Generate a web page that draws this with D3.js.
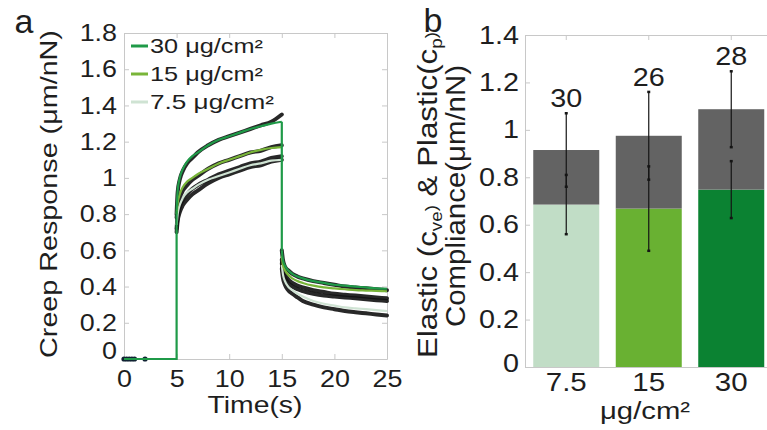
<!DOCTYPE html>
<meta charset="utf-8">
<style>
body { margin: 0; background: #fff; }
svg { display: block; }
text { font-family: "Liberation Sans", Arial, sans-serif; fill: #1e1e1e; }
</style>
<body>
<script src="https://d3js.org/d3.v7.min.js"></script>
<script>

var width = 767,
    height = 430;

// ---- panel a : creep curves ----
var xTicksA = [0, 5, 10, 15, 20, 25],
    yTicksA = [0, 0.2, 0.4, 0.6, 0.8, 1, 1.2, 1.4, 1.6, 1.8];

var preT = [0, 0.25, 0.5, 0.75, 1.0, 2.0];
var loadT = [5, 5.1, 5.3, 5.6, 6, 6.5, 7, 8, 9, 10, 11, 12, 13, 14, 15];
var unloadT = [15, 15.1, 15.3, 15.6, 16, 16.5, 17, 18, 19, 20, 21, 22, 23, 24, 25];

// measured traces (black)
var data30Load = [0.80, 0.92, 0.99, 1.04, 1.08, 1.11, 1.14, 1.18, 1.21, 1.23, 1.25, 1.27, 1.29, 1.31, 1.35];
var data15Load = [0.78, 0.84, 0.89, 0.93, 0.96, 0.99, 1.01, 1.05, 1.08, 1.10, 1.12, 1.14, 1.15, 1.17, 1.18];
var data7Load  = [0.72, 0.79, 0.84, 0.88, 0.91, 0.94, 0.96, 0.99, 1.02, 1.04, 1.06, 1.08, 1.09, 1.11, 1.12];
var data7bLoad = [0.70, 0.76, 0.81, 0.85, 0.88, 0.91, 0.93, 0.97, 1.00, 1.02, 1.04, 1.06, 1.07, 1.09, 1.10];
var data30Unload = [0.60, 0.55, 0.51, 0.49, 0.47, 0.455, 0.445, 0.43, 0.42, 0.41, 0.40, 0.395, 0.39, 0.385, 0.38];
var data15Unload = [0.55, 0.50, 0.47, 0.44, 0.42, 0.405, 0.395, 0.38, 0.37, 0.36, 0.355, 0.35, 0.345, 0.34, 0.335];
var data7bUnload = [0.53, 0.48, 0.45, 0.42, 0.40, 0.385, 0.375, 0.36, 0.35, 0.345, 0.34, 0.335, 0.33, 0.325, 0.32];
var data7Unload  = [0.50, 0.45, 0.41, 0.38, 0.36, 0.34, 0.32, 0.30, 0.285, 0.275, 0.265, 0.258, 0.252, 0.246, 0.24];

// fitted curves (coloured)
var fit30Load = [0.82, 0.93, 1.00, 1.05, 1.09, 1.12, 1.14, 1.18, 1.21, 1.23, 1.25, 1.27, 1.285, 1.30, 1.31];
var fit15Load = [0.80, 0.86, 0.91, 0.95, 0.98, 1.00, 1.02, 1.05, 1.08, 1.10, 1.12, 1.14, 1.155, 1.165, 1.17];
var fit7Load  = [0.74, 0.80, 0.85, 0.89, 0.92, 0.94, 0.96, 0.99, 1.01, 1.03, 1.05, 1.07, 1.08, 1.095, 1.10];
var fit30Unload = [0.60, 0.55, 0.515, 0.49, 0.47, 0.455, 0.445, 0.43, 0.42, 0.41, 0.405, 0.40, 0.395, 0.39, 0.388];
var fit15Unload = [0.57, 0.52, 0.49, 0.465, 0.445, 0.43, 0.42, 0.405, 0.395, 0.39, 0.385, 0.38, 0.378, 0.376, 0.374];
var fit7Unload  = [0.52, 0.47, 0.43, 0.40, 0.38, 0.36, 0.345, 0.32, 0.305, 0.295, 0.285, 0.28, 0.275, 0.27, 0.265];

var legendLabels = ["30 μg/cm²", "15 μg/cm²", "7.5 μg/cm²"];
var fitColors = ["#1f9a48", "#79b539", "#cfe3d3"];

// ---- panel b : compliance bars ----
var conc = ["7.5", "15", "30"];
var elastic = [0.685, 0.668, 0.748];
var plastic = [0.23, 0.307, 0.339];
var elasticSd = [0.125, 0.178, 0.12];
var totalSd = [0.155, 0.185, 0.16];
var nCells = [30, 26, 28];
var yTicksB = [0, 0.2, 0.4, 0.6, 0.8, 1, 1.2, 1.4];
var barColors = ["#c1ddc6", "#69b132", "#0b8232"];
var plasticColor = "#636363";

var frame = "#c8c8c8";

var svg = d3.select("body").append("svg")
    .attr("width", width)
    .attr("height", height);

// text stretched along its baseline, like the original export
function label(parent, parts, x, y, size, targetW, rot, anchor) {
  var g = parent.append("g");
  var t = g.append("text")
      .attr("font-size", size)
      .attr("text-anchor", anchor || "middle");
  parts.forEach(function(p) {
    if (typeof p === "string") t.append("tspan").text(p);
    else t.append("tspan").attr("font-size", size * 0.6).attr("dy", p.dy).text(p.s);
  });
  var w = t.node().getComputedTextLength();
  var sx = targetW ? targetW / w : 1;
  g.attr("transform", "translate(" + x + "," + y + ") rotate(" + (rot || 0) + ") scale(" + sx + ",1)");
  return g;
}

var fmt = d3.format(".1~f");

function styleAxis(g, size, hideLabels) {
  g.select(".domain").attr("stroke", frame);
  g.selectAll(".tick line").attr("stroke", frame);
  g.selectAll("text").attr("font-size", size).attr("fill", "#222")
      .style("font-family", "'Liberation Sans', Arial, sans-serif");
  if (hideLabels) g.selectAll("text").remove();
}

// ================= panel a =================
var xA = d3.scaleLinear().domain([0, 25]).range([124, 387]);
var yA = d3.scaleLinear().domain([0, 1.8]).range([359, 33]);

var gA = svg.append("g");

// frame and inward ticks
gA.append("g").attr("transform", "translate(0," + yA(1.8) + ")")
    .call(d3.axisTop(xA).tickValues(xTicksA).tickSizeInner(-5).tickSizeOuter(0))
    .call(styleAxis, 20, true);
gA.append("g").attr("transform", "translate(" + xA(25) + ",0)")
    .call(d3.axisRight(yA).tickValues(yTicksA).tickSizeInner(-5).tickSizeOuter(0))
    .call(styleAxis, 20, true);

var axBottomA = gA.append("g").attr("transform", "translate(0," + yA(0) + ")")
    .call(d3.axisBottom(xA).tickValues(xTicksA).tickFormat(d3.format("d")).tickSizeInner(-5).tickSizeOuter(0).tickPadding(0))
    .call(styleAxis, 24);
axBottomA.selectAll(".tick text")
    .attr("dy", null).attr("y", 0)
    .attr("transform", "translate(0,28) scale(1.12,1)");

var axLeftA = gA.append("g").attr("transform", "translate(" + xA(0) + ",0)")
    .call(d3.axisLeft(yA).tickValues(yTicksA).tickFormat(fmt).tickSizeInner(-5).tickSizeOuter(0).tickPadding(0))
    .call(styleAxis, 24);
axLeftA.selectAll(".tick text")
    .attr("x", 0)
    .attr("transform", function(d) { return "translate(-7," + (d === 0 ? -8 : 0) + ") scale(1.12,1)"; });

// measured traces
var lineA = d3.line()
    .x(function(d) { return xA(d[0]); })
    .y(function(d) { return yA(d[1]); })
    .curve(d3.curveMonotoneX);

var blackTraces = [
  [loadT, data30Load], [loadT, data15Load], [loadT, data7Load], [loadT, data7bLoad],
  [unloadT, data30Unload], [unloadT, data15Unload], [unloadT, data7bUnload], [unloadT, data7Unload]
];
blackTraces.forEach(function(tr) {
  gA.append("path")
      .datum(tr[0].map(function(t, i) { return [t, tr[1][i]]; }))
      .attr("d", lineA)
      .attr("fill", "none")
      .attr("stroke", "#111")
      .attr("stroke-width", 4)
      .attr("stroke-linecap", "round")
      .attr("opacity", 0.9);
});
gA.selectAll(".pre").data(preT).enter().append("circle")
    .attr("cx", function(d) { return xA(d); })
    .attr("cy", yA(0))
    .attr("r", 2.6)
    .attr("fill", "#123");

// fitted curves: flat, step up at 5 s, creep, step down at 15 s, recovery
var fits = [
  [fit7Load, fit7Unload], [fit15Load, fit15Unload], [fit30Load, fit30Unload]
];
var fitColorOrder = [fitColors[2], fitColors[1], fitColors[0]];
var lineLin = d3.line()
    .x(function(d) { return xA(d[0]); })
    .y(function(d) { return yA(d[1]); });
fits.forEach(function(f, k) {
  var load = loadT.map(function(t, i) { return [t, f[0][i]]; });
  var unload = unloadT.map(function(t, i) { return [t, f[1][i]]; });
  if (k === 2) {
    gA.append("path")
        .datum([[0, 0], [5, 0], [5, f[0][0]]])
        .attr("d", lineLin).attr("fill", "none")
        .attr("stroke", fitColorOrder[k]).attr("stroke-width", 2.2);
    gA.append("path")
        .datum([[15, f[0][f[0].length - 1]], [15, f[1][0]]])
        .attr("d", lineLin).attr("fill", "none")
        .attr("stroke", fitColorOrder[k]).attr("stroke-width", 2.2);
  }
  [load, unload].forEach(function(seg) {
    gA.append("path")
        .datum(seg)
        .attr("d", lineA)
        .attr("fill", "none")
        .attr("stroke", fitColorOrder[k])
        .attr("stroke-width", 2.2);
  });
});

// legend
legendLabels.forEach(function(s, i) {
  var y = 53 + i * 28;
  gA.append("line")
      .attr("x1", 131).attr("x2", 148)
      .attr("y1", y - 7).attr("y2", y - 7)
      .attr("stroke", fitColors[i]).attr("stroke-width", 3);
  label(gA, [s], 150, y, 20, i === 2 ? 124 : 113, 0, "start");
});

label(gA, ["Time(s)"], 255, 413, 23, 95);
label(gA, ["Creep Response (μm/nN)"], 57, 194, 23, 328, -90);
label(gA, ["a"], 24, 33, 34);

// ================= panel b =================
var xB = d3.scaleBand().domain(conc).range([525, 772.5]).paddingInner(0.2).paddingOuter(0.1);
var yB = d3.scaleLinear().domain([0, 1.4]).range([367, 35]);

var gB = svg.append("g");

gB.append("g").attr("transform", "translate(0," + yB(1.4) + ")")
    .call(d3.axisTop(xB).tickSizeInner(-5).tickSizeOuter(0))
    .call(styleAxis, 20, true);

var rows = conc.map(function(c, i) {
  return { c: c, e: elastic[i], p: plastic[i], eSd: elasticSd[i], tSd: totalSd[i], n: nCells[i], color: barColors[i] };
});

gB.selectAll(".el").data(rows).enter().append("rect")
    .attr("x", function(d) { return xB(d.c); })
    .attr("width", xB.bandwidth())
    .attr("y", function(d) { return yB(d.e); })
    .attr("height", function(d) { return yB(0) - yB(d.e); })
    .attr("fill", function(d) { return d.color; });
gB.selectAll(".pl").data(rows).enter().append("rect")
    .attr("x", function(d) { return xB(d.c); })
    .attr("width", xB.bandwidth())
    .attr("y", function(d) { return yB(d.e + d.p); })
    .attr("height", function(d) { return yB(d.e) - yB(d.e + d.p); })
    .attr("fill", plasticColor);

// error bars for elastic and for total
rows.forEach(function(d) {
  var cx = xB(d.c) + xB.bandwidth() / 2;
  var tot = d.e + d.p;
  [[d.e - d.eSd, d.e + d.eSd], [tot - d.tSd, tot + d.tSd]].forEach(function(r) {
    gB.append("line")
        .attr("x1", cx).attr("x2", cx)
        .attr("y1", yB(r[0])).attr("y2", yB(r[1]))
        .attr("stroke", "#151515").attr("stroke-width", 1.2);
    r.forEach(function(v) {
      gB.append("line")
          .attr("x1", cx - 1.5).attr("x2", cx + 1.5)
          .attr("y1", yB(v)).attr("y2", yB(v))
          .attr("stroke", "#151515").attr("stroke-width", 2.5);
    });
  });
  label(gB, [String(d.n)], cx, yB(tot + d.tSd) - 6, 26, 32);
});

var axLeftB = gB.append("g").attr("transform", "translate(" + xB.range()[0] + ",0)")
    .call(d3.axisLeft(yB).tickValues(yTicksB).tickFormat(fmt).tickSizeInner(-5).tickSizeOuter(0).tickPadding(0))
    .call(styleAxis, 25);
axLeftB.selectAll(".tick text")
    .attr("x", 0)
    .attr("transform", function(d) { return "translate(-6," + (d === 0 ? -4 : 0) + ") scale(1.15,1)"; });

var axBottomB = gB.append("g").attr("transform", "translate(0," + yB(0) + ")")
    .call(d3.axisBottom(xB).tickSize(0).tickPadding(0))
    .call(styleAxis, 25);
axBottomB.selectAll(".tick text")
    .attr("dy", null).attr("y", 0)
    .attr("transform", "translate(0,24) scale(1.18,1)");

label(gB, ["μg/cm²"], 645, 419, 24, 90);
label(gB, ["Elastic (c", { s: "ve", dy: 5 }, { s: ")", dy: -5 }, " & Plastic(c", { s: "p", dy: 5 }, { s: ")", dy: -5 }],
      437, 195, 27, 326, -90);
label(gB, ["Compliance(μm/nN)"], 465, 196, 27, 262, -90);
label(gB, ["b"], 433, 32, 34);

</script>
